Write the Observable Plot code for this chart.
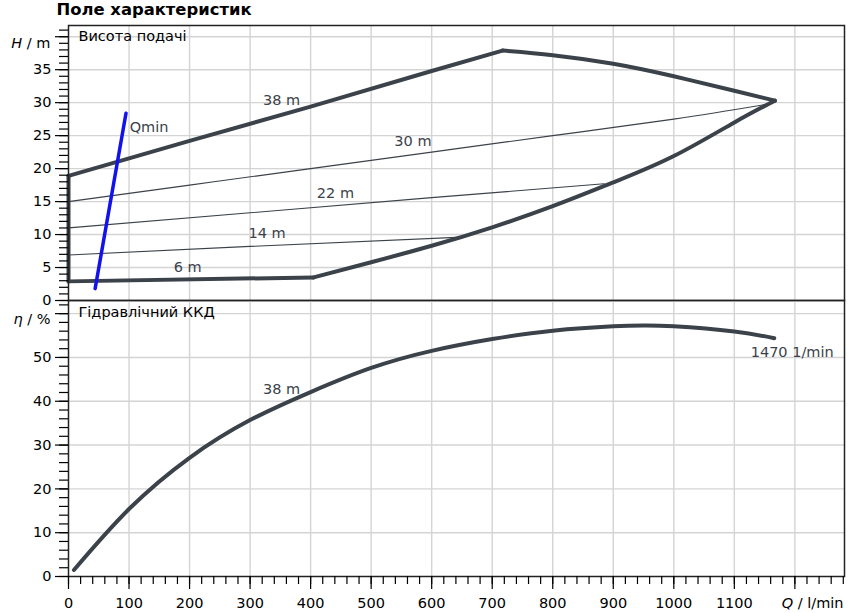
<!DOCTYPE html>
<html><head><meta charset="utf-8">
<script src="https://cdn.jsdelivr.net/npm/d3@7"></script>
<script src="https://cdn.jsdelivr.net/npm/@observablehq/plot@0.6"></script>
<style>
body{margin:0;background:#fff;}
#wrap{position:relative;width:852px;height:613px;overflow:hidden;background:#fff;}
#title{position:absolute;left:56.5px;top:1.5px;font-family:"DejaVu Sans",sans-serif;font-weight:bold;font-size:16.4px;line-height:16px;color:#000;white-space:nowrap;}
#top,#bot{position:absolute;left:0;}
#top{top:0px;} #bot{top:290px;}
svg{overflow:visible;}
</style></head><body>
<div id="wrap"><div id="title">Поле характеристик</div><div id="top"></div><div id="bot"></div></div>
<script>
// ---- axes / ticks ----
const qDomain = [0, 1282];
const qMajorTicks = [0,100,200,300,400,500,600,700,800,900,1000,1100,1200];
const qTickLabels = ["0","100","200","300","400","500","600","700","800","900","1000","1100",""];
const qMinorTicks = d3.range(0, 1281, 20);
const qGridLines = [100,200,300,400,500,600,700,800,900,1000,1100,1200];
const hDomain = [0, 41.7];
const hMajorTicks = [0,5,10,15,20,25,30,35,40];
const hTickLabels = ["0","5","10","15","20","25","30","35",""];
const hMinorTicks = d3.range(0, 42, 1);
const hGridLines = [5,10,15,20,25,30,35,40];
const effDomain = [0, 63];
const effMajorTicks = [0,10,20,30,40,50,60];
const effTickLabels = ["0","10","20","30","40","50",""];
const effMinorTicks = d3.range(0, 63, 2);
const effGridLines = [10,20,30,40,50,60];

// ---- head curves (Q in l/min, H in m) ----
const leftEdgeQ = [0, 0];
const leftEdgeH = [2.9, 18.9];
const h38RiseQ = [0, 200, 400, 600, 717];
const h38RiseH = [18.9, 24.2, 29.4, 34.8, 37.9];
const h38FallQ = [717, 800, 900, 1000, 1100, 1167];
const h38FallH = [37.9, 37.2, 35.9, 34.0, 31.8, 30.3];
const h6Q = [0, 405];
const h6H = [2.9, 3.5];
const qMaxQ = [405, 500, 600, 700, 800, 900, 1000, 1100, 1167];
const qMaxH = [3.5, 5.8, 8.3, 11.1, 14.3, 17.9, 21.9, 27.0, 30.3];
const h30Q = [0, 200, 400, 600, 800, 1000, 1150];
const h30H = [15.0, 17.5, 20.0, 22.5, 25.0, 27.5, 29.7];
const h22Q = [0, 300, 600, 885];
const h22H = [11.0, 13.3, 15.6, 17.7];
const h14Q = [0, 300, 650];
const h14H = [6.9, 8.2, 9.6];
const qminQ = [44, 95];
const qminH = [1.8, 28.4];

// ---- efficiency curve ----
const effQ = [9, 100, 200, 300, 400, 500, 600, 700, 800, 900, 950, 1000, 1100, 1166];
const effV = [1.5, 15.4, 27.1, 35.7, 42.1, 47.6, 51.5, 54.2, 56.1, 57.1, 57.3, 57.1, 55.9, 54.4];

// ---- labels ----
const headLabelText = ["38 m", "30 m", "22 m", "14 m", "6 m"];
const headLabelQ = [352, 569, 441, 328, 197];
const headLabelH = [30.3, 24.2, 16.2, 10.2, 5.1];
const effLabelText = ["38 m"];
const effLabelQ = [352];
const effLabelV = [42.8];
const speedLabel = "1470 1/min";
const speedLabelQ = 1127;
const speedLabelV = 51.2;

const FONT = "DejaVu Sans, sans-serif";
const CURVE = "#3b424a";
const GRID = "#d4d4d4";
const pts = (Q, V) => Q.map((q, i) => ({q, v: V[i]}));
const fmt = (ticks, labels) => d => labels[ticks.indexOf(d)] ?? "";

const gridOpts = {stroke: GRID, strokeOpacity: 1, strokeWidth: 1.4};
const thick = {x: "q", y: "v", stroke: CURVE, strokeWidth: 4, strokeLinecap: "round", strokeLinejoin: "round"};
const thin = {x: "q", y: "v", stroke: CURVE, strokeWidth: 1.15};

const topPlot = Plot.plot({
  width: 852, height: 310, marginTop: 25, marginBottom: 10, marginLeft: 68, marginRight: 8,
  style: {background: "transparent", overflow: "visible", fontFamily: FONT, fontSize: "14.5px", color: "#000"},
  x: {domain: qDomain, axis: null},
  y: {domain: hDomain},
  marks: [
    Plot.gridX(qGridLines, gridOpts),
    Plot.gridY(hGridLines, gridOpts),
    Plot.line(pts(h30Q, h30H), {...thin, curve: "natural"}),
    Plot.line(pts(h22Q, h22H), {...thin, curve: "natural"}),
    Plot.line(pts(h14Q, h14H), {...thin, curve: "natural"}),
    Plot.line(pts(leftEdgeQ, leftEdgeH), thick),
    Plot.line(pts(h38RiseQ, h38RiseH), thick),
    Plot.line(pts(h38FallQ, h38FallH), {...thick, curve: "natural"}),
    Plot.line(pts(h6Q, h6H), thick),
    Plot.line(pts(qMaxQ, qMaxH), {...thick, curve: "natural"}),
    Plot.line(pts(qminQ, qminH), {x: "q", y: "v", stroke: "#1212ee", strokeWidth: 3.5, strokeLinecap: "round"}),
    Plot.text(headLabelText.map((t, i) => ({t, q: headLabelQ[i], v: headLabelH[i]})), {x: "q", y: "v", text: "t", fill: CURVE, fontSize: 14.5}),
    Plot.text(["Qmin"], {x: 101, y: 26.2, text: d => d, fill: CURVE, textAnchor: "start", fontSize: 14.5}),
    Plot.text(["Висота подачі"], {frameAnchor: "top-left", dx: 10, dy: 11, text: d => d, textAnchor: "start", lineAnchor: "middle", fill: "#000", fontSize: 14.5}),
    Plot.text(["H / m"], {frameAnchor: "top-left", dx: -18, dy: 18, text: d => d, textAnchor: "end", lineAnchor: "middle", fill: "#000", fontSize: 14.5}),
    Plot.frame({stroke: "#222", strokeWidth: 1.5}),
    Plot.axisY(hMinorTicks, {tickSize: 9, tickFormat: () => "", strokeWidth: 1.2, label: null}),
    Plot.axisY(hMajorTicks, {tickSize: 13, tickPadding: 4, tickFormat: fmt(hMajorTicks, hTickLabels), strokeWidth: 1.2, label: null, fontSize: 14.5})
  ]
});

const botPlot = Plot.plot({
  width: 852, height: 323, marginTop: 10, marginBottom: 37, marginLeft: 68, marginRight: 8,
  style: {background: "transparent", overflow: "visible", fontFamily: FONT, fontSize: "14.5px", color: "#000"},
  x: {domain: qDomain},
  y: {domain: effDomain},
  marks: [
    Plot.gridX(qGridLines, gridOpts),
    Plot.gridY(effGridLines, gridOpts),
    Plot.line(pts(effQ, effV), {...thick, curve: "natural"}),
    Plot.text(effLabelText.map((t, i) => ({t, q: effLabelQ[i], v: effLabelV[i]})), {x: "q", y: "v", text: "t", fill: CURVE, fontSize: 14.5}),
    Plot.text([speedLabel], {x: speedLabelQ, y: speedLabelV, text: d => d, fill: CURVE, textAnchor: "start", fontSize: 14.5}),
    Plot.text(["Гідравлічний ККД"], {frameAnchor: "top-left", dx: 10, dy: 11.5, text: d => d, textAnchor: "start", lineAnchor: "middle", fill: "#000", fontSize: 14.5}),
    Plot.text(["η / %"], {frameAnchor: "top-left", dx: -18, dy: 19, text: d => d, textAnchor: "end", lineAnchor: "middle", fill: "#000", fontSize: 14.5}),
    Plot.text(["Q / l/min"], {frameAnchor: "bottom-right", dx: -1, dy: 27, text: d => d, textAnchor: "end", lineAnchor: "middle", fill: "#000", fontSize: 14.5}),
    Plot.frame({stroke: "#222", strokeWidth: 1.5}),
    Plot.axisY(effMinorTicks, {tickSize: 9, tickFormat: () => "", strokeWidth: 1.2, label: null}),
    Plot.axisY(effMajorTicks, {tickSize: 13, tickPadding: 4, tickFormat: fmt(effMajorTicks, effTickLabels), strokeWidth: 1.2, label: null, fontSize: 14.5}),
    Plot.axisX(qMinorTicks, {tickSize: 8, tickFormat: () => "", strokeWidth: 1.2, label: null}),
    Plot.axisX(qMajorTicks, {tickSize: 13, tickPadding: 8, tickFormat: fmt(qMajorTicks, qTickLabels), strokeWidth: 1.2, label: null, fontSize: 14.5})
  ]
});

function italicFirst(svg, str, first, rest) {
  d3.select(svg).selectAll("text").filter(function () { return this.textContent === str; }).each(function () {
    const t = d3.select(this);
    t.text(null);
    t.append("tspan").attr("font-style", "italic").text(first);
    t.append("tspan").text(rest);
  });
}
italicFirst(topPlot, "H / m", "H", " / m");
italicFirst(botPlot, "η / %", "η", " / %");
italicFirst(botPlot, "Q / l/min", "Q", " / l/min");

document.getElementById("top").appendChild(topPlot);
document.getElementById("bot").appendChild(botPlot);
</script>
</body></html>
